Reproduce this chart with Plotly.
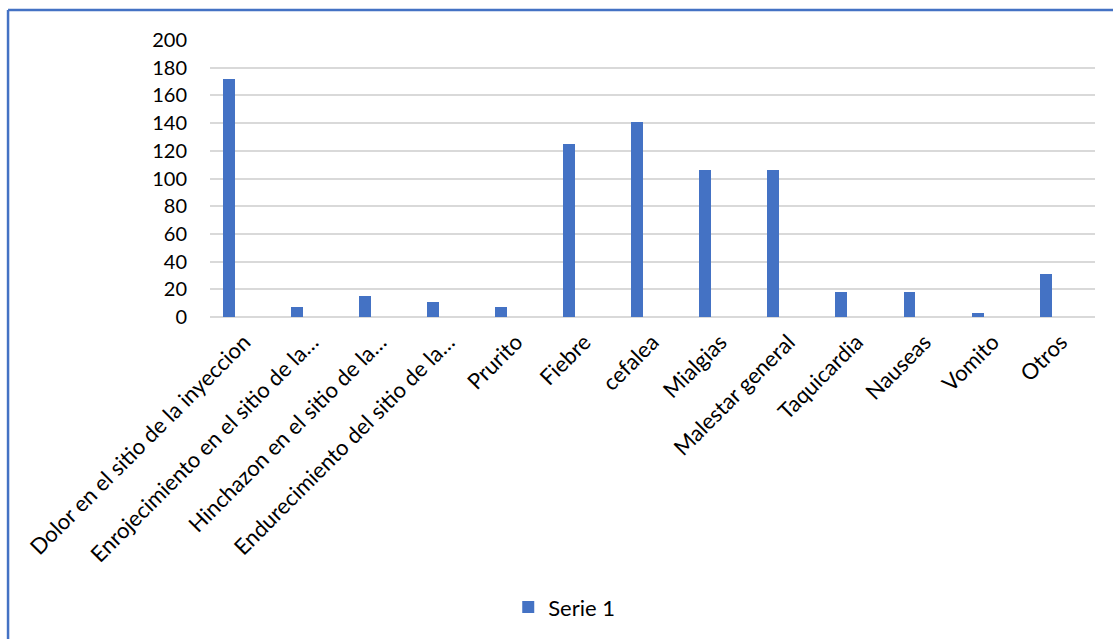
import plotly.graph_objects as go

categories = [
    "Dolor en el sitio de la inyeccion",
    "Enrojecimiento en el sitio de la…",
    "Hinchazon en el sitio de la…",
    "Endurecimiento del sitio de la…",
    "Prurito",
    "Fiebre",
    "cefalea",
    "Mialgias",
    "Malestar general",
    "Taquicardia",
    "Nauseas",
    "Vomito",
    "Otros",
]
serie1 = [172, 7, 15, 11, 7, 125, 141, 106, 106, 18, 18, 3, 31]
y_ticks = list(range(0, 201, 20))

FONT = "Lato"
fig = go.Figure()
fig.add_trace(go.Bar(
    x=categories, y=serie1, name="Serie 1",
    marker=dict(color="#4472C4", line=dict(width=0)),
    width=0.176, offset=-0.313,
))

fig.update_layout(
    width=1113, height=639,
    margin=dict(l=210, r=18, t=40, b=321),
    paper_bgcolor="white", plot_bgcolor="white",
    font=dict(family=FONT, size=20, color="#000000"),
    showlegend=True,
    legend=dict(orientation="h", x=0.337, xanchor="left", y=-1.04, yanchor="middle",
                font=dict(family=FONT, size=22, color="#000000"), bgcolor="rgba(0,0,0,0)"),
    bargap=0,
    shapes=[
        dict(type="line", xref="paper", yref="paper", x0=-0.2282, x1=1.05, y0=1.108, y1=1.108,
             line=dict(color="#4472C4", width=2.5)),
        dict(type="line", xref="paper", yref="paper", x0=-0.2282, x1=-0.2282, y0=1.108, y1=-1.2,
             line=dict(color="#4472C4", width=2.5)),
    ],
)
fig.update_xaxes(
    type="category", tickangle=-45, showgrid=False, showline=False, ticks="",
    ticklabelstandoff=7,
    tickfont=dict(family=FONT, size=22, color="#000000"), automargin=False,
)
fig.update_yaxes(
    range=[0, 200], tickvals=y_ticks, showgrid=True, gridcolor="#D9D9D9", gridwidth=1.5,
    zeroline=True, zerolinecolor="#D9D9D9", zerolinewidth=1.5, showline=False, ticks="",
    ticklabelstandoff=22,
    tickfont=dict(family=FONT, size=20, color="#000000"), automargin=False,
)
fig.write_html("out.html")
